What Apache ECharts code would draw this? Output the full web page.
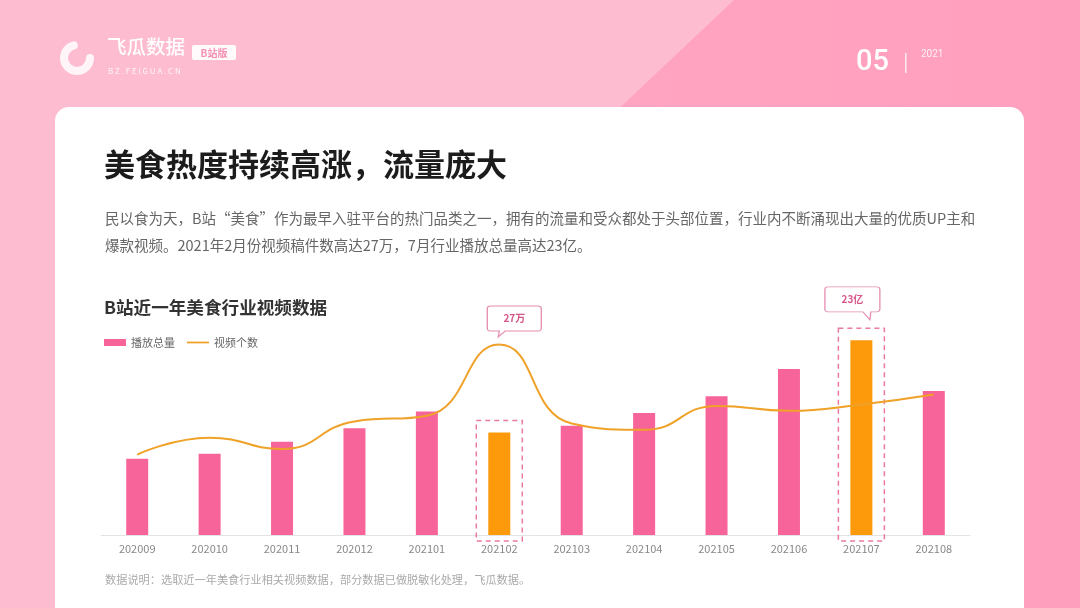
<!DOCTYPE html>
<html>
<head>
<meta charset="utf-8">
<script src="https://cdn.jsdelivr.net/npm/echarts@6/dist/echarts.min.js"></script>
<style>
  html, body { margin: 0; padding: 0; }
  #main { width: 1080px; height: 608px; }
</style>
</head>
<body>
<div id="main"></div>
<script>
// months on the x axis
const months = ['202009', '202010', '202011', '202012', '202101', '202102',
  '202103', '202104', '202105', '202106', '202107', '202108']
// 播放总量, 亿
const playTotal = [9.0, 9.6, 11.0, 12.6, 14.6, 12.1, 12.9, 14.4, 16.4, 19.6, 23.0, 17.0]
// 视频个数, 万
const videoCount = [11.4, 13.8, 12.2, 16.1, 16.9, 27.0, 15.8, 14.9, 18.3, 17.6, 18.5, 19.9]
// months picked out in orange with a dashed frame
const highlightMonths = ['202102', '202107']

const PINK = '#f7649a'
const ORANGE = '#fc9a0c'
const LINE = '#efa128'
const FONT = '"Noto Sans CJK SC", "Noto Sans", sans-serif'

const highlightIdx = highlightMonths.map(m => months.indexOf(m))
const boxData = highlightIdx.map(i => [i, playTotal[i]])

const chart = echarts.init(document.getElementById('main'), null, {renderer: 'canvas'})

const bubbleLeft = 'path://M3,0 H51 Q54,0 54,3 V22 Q54,25 51,25 H18 L11,31 L12,25 H3 Q0,25 0,22 V3 Q0,0 3,0 Z'
const bubbleRight = 'path://M3,0 H52 Q55,0 55,3 V22 Q55,25 52,25 H46 L45,33 L38,25 H3 Q0,25 0,22 V3 Q0,0 3,0 Z'

const option = {
  textStyle: { fontFamily: FONT },
  animation: false,
  graphic: [
    // page background
    { type: 'rect', z: -10, shape: { x: 0, y: 0, width: 1080, height: 608 }, style: { fill: '#fdbcd0' } },
    { type: 'polygon', z: -9, shape: { points: [[734, 0], [1080, 0], [1080, 608], [90, 608]] },
      style: { fill: new echarts.graphic.LinearGradient(0, 0, 1, 0, [
        { offset: 0, color: '#ffa9c3' }, { offset: 1, color: '#ff9fbe' }]) } },
    // white card
    { type: 'rect', z: -8, shape: { x: 55, y: 107, width: 969, height: 540, r: 14 }, style: { fill: '#ffffff' } },
    // logo
    { type: 'arc', z: 5, shape: { cx: 77, cy: 58, r: 13, startAngle: 0, endAngle: Math.PI * 1.42, clockwise: true },
      style: { stroke: 'rgba(255,255,255,0.85)', lineWidth: 8, fill: null, lineCap: 'round' } },
    { type: 'text', z: 5, x: 107, y: 47, style: { text: '飞瓜数据', font: '500 19.5px ' + FONT, fill: '#ffffff', verticalAlign: 'middle' } },
    { type: 'rect', z: 5, shape: { x: 192, y: 45, width: 44, height: 15, r: 2 }, style: { fill: 'rgba(255,255,255,0.92)' } },
    { type: 'text', z: 6, x: 214, y: 53, style: { text: 'B站版', font: 'bold 10px ' + FONT, fill: '#f58fb0', align: 'center', verticalAlign: 'middle' } },
    { type: 'text', z: 5, x: 108, y: 71, style: { text: 'B Z . F E I G U A . C N', font: '8px ' + FONT, fill: 'rgba(255,255,255,0.85)', verticalAlign: 'middle' } },
    // page number
    { type: 'text', z: 5, x: 856, y: 63, style: { text: '05', font: '500 29px Roboto, sans-serif', fill: '#ffffff', verticalAlign: 'middle' } },
    { type: 'rect', z: 5, shape: { x: 905, y: 53, width: 1.5, height: 20 }, style: { fill: 'rgba(255,255,255,0.8)' } },
    { type: 'text', z: 5, x: 921, y: 54, style: { text: '2021', font: '10px Roboto, sans-serif', fill: 'rgba(255,255,255,0.85)', verticalAlign: 'middle' } },
    // headings and copy
    { type: 'text', z: 5, x: 104, y: 164, style: { text: '美食热度持续高涨，流量庞大', font: 'bold 31px ' + FONT, fill: '#1c1c1c', verticalAlign: 'middle' } },
    { type: 'text', z: 5, x: 105, y: 218, style: { text: '民以食为天，B站“美食”作为最早入驻平台的热门品类之一，拥有的流量和受众都处于头部位置，行业内不断涌现出大量的优质UP主和', font: '14.5px ' + FONT, fill: '#666666', verticalAlign: 'middle' } },
    { type: 'text', z: 5, x: 105, y: 245, style: { text: '爆款视频。2021年2月份视频稿件数高达27万，7月行业播放总量高达23亿。', font: '14.5px ' + FONT, fill: '#666666', verticalAlign: 'middle' } },
    { type: 'text', z: 5, x: 104, y: 307, style: { text: 'B站近一年美食行业视频数据', font: 'bold 17.6px ' + FONT, fill: '#333333', verticalAlign: 'middle' } },
    { type: 'text', z: 5, x: 105, y: 580, style: { text: '数据说明：选取近一年美食行业相关视频数据，部分数据已做脱敏化处理，飞瓜数据。', font: '11.2px ' + FONT, fill: '#aaaaaa', verticalAlign: 'middle' } }
  ],
  legend: {
    data: [
      { name: '播放总量', icon: 'rect', itemStyle: { color: PINK } },
      { name: '视频个数', icon: 'path://M0,0 H100 V8 H0 Z', itemStyle: { color: LINE } }
    ],
    left: 99,
    top: 332,
    itemWidth: 22,
    itemHeight: 7,
    itemGap: 12,
    textStyle: { fontSize: 11, color: '#666666', fontFamily: FONT }
  },
  grid: {
    left: 101,
    right: 110,
    top: 281,
    bottom: 73,
    containLabel: false
  },
  xAxis: {
    type: 'category',
    data: months,
    axisTick: { show: false },
    axisLine: { lineStyle: { color: '#e3e3e3' } },
    axisLabel: { color: '#888888', fontSize: 11, margin: 8, fontFamily: FONT }
  },
  yAxis: [{
    type: 'value', min: 0, max: 30, show: false, splitLine: { show: false }
  }, {
    type: 'value', min: 0, max: 36, show: false, splitLine: { show: false }
  }],
  series: [{
    name: '播放总量',
    type: 'bar',
    barWidth: 22,
    yAxisIndex: 0,
    itemStyle: {
      color: (p) => highlightIdx.indexOf(p.dataIndex) >= 0 ? ORANGE : PINK
    },
    data: playTotal,
    markPoint: {
      symbol: bubbleRight,
      symbolSize: [55, 33],
      symbolOffset: [-9, -37],
      itemStyle: { color: '#ffffff', borderColor: '#e58db0', borderWidth: 1 },
      label: { formatter: (p) => p.value + '亿', color: '#d6578a', fontSize: 10, fontWeight: 'bold', offset: [0, -4] },
      data: [{ type: 'max' }]
    }
  }, {
    type: 'custom',
    name: 'frame',
    silent: true,
    yAxisIndex: 0,
    z: 3,
    renderItem: (params, api) => {
      const top = api.coord([api.value(0), api.value(1)])
      const base = api.coord([api.value(0), 0])
      return {
        type: 'rect',
        shape: { x: top[0] - 23, y: top[1] - 12, width: 46, height: base[1] - top[1] + 18 },
        style: { fill: null, stroke: '#ea7aa2', lineWidth: 1.5, lineDash: [5, 4] }
      }
    },
    data: boxData
  }, {
    name: '视频个数',
    type: 'line',
    yAxisIndex: 1,
    smooth: 0.5,
    symbol: 'none',
    z: 4,
    lineStyle: { color: LINE, width: 2 },
    itemStyle: { color: LINE },
    data: videoCount,
    markPoint: {
      symbol: bubbleLeft,
      symbolSize: [54, 31],
      symbolOffset: [15, -23],
      itemStyle: { color: '#ffffff', borderColor: '#e58db0', borderWidth: 1 },
      label: { formatter: (p) => p.value + '万', color: '#d6578a', fontSize: 10, fontWeight: 'bold', offset: [0, -3] },
      data: [{ type: 'max' }]
    }
  }]
}

chart.setOption(option, true)
</script>
</body>
</html>
